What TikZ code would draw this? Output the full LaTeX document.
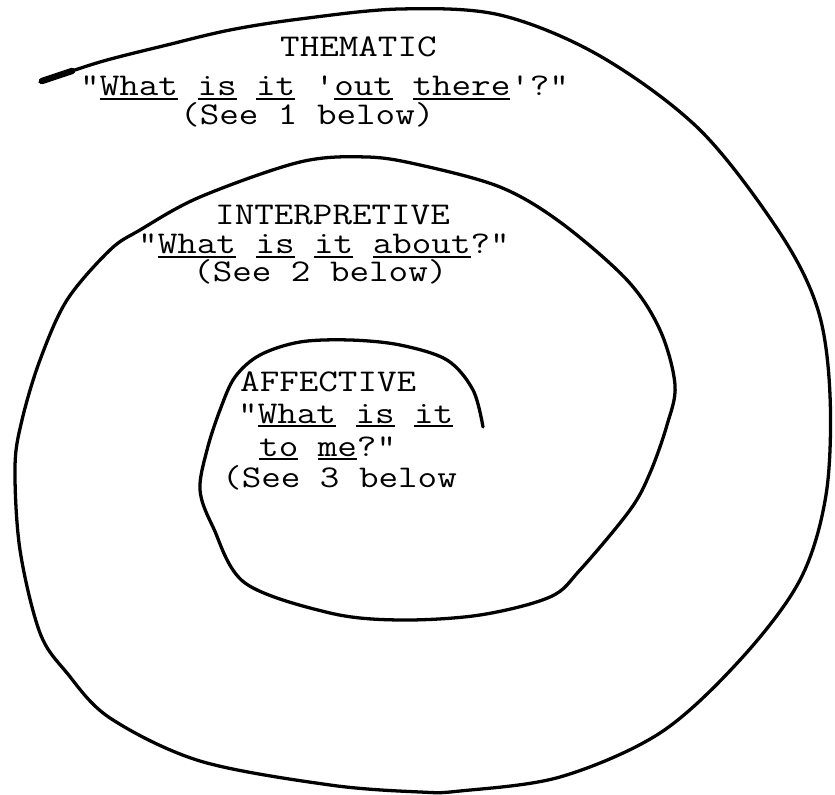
\documentclass[tikz,border=0pt]{standalone}
\usepackage{fontspec}
\usepackage{graphicx}
\usetikzlibrary{positioning}
\newcommand{\tw}[1]{\scalebox{1.2}[1]{#1}}
\newcommand{\undr}[1]{\setbox0\hbox{#1}\rlap{\rule[-3.2pt]{\wd0}{1.4pt}}\box0\relax}
\tikzset{
  typed/.style={anchor=base west,inner sep=0pt,
                font=\fontsize{27}{30}\selectfont\ttfamily},
  spiral/.style={line width=2.8pt,line join=round,line cap=round},
  spiraltip/.style={line width=5.5pt,line cap=round},
}

\begin{document}
\begin{tikzpicture}[x=0.03cm,y=-0.03cm]
  \useasboundingbox (0,0) rectangle (835,795);
  % the spiral, from the open outer end inwards
  \draw[spiral] plot[smooth,tension=0.55] coordinates {
    (40,82) (100,62) (167,45) (230,30) (300,19) (400,9) (500,15)
    (600,56) (700,130) (780,233) (818,310) (830,395) (826,495)
    (800,580) (740,660) (660,733) (560,777) (460,791) (420,792)
    (330,785) (200,761) (110,718) (67,673) (40,633) (20,550)
    (15,467) (22,420) (40,360) (67,300) (110,250) (140,230)
    (200,197) (300,162) (367,157) (420,165) (500,187) (560,222)
    (627,280) (660,330) (675,385) (667,425) (650,473) (630,510)
    (580,570) (550,597) (480,615) (400,620) (330,613) (245,583)
    (213,527) (200,490) (207,450) (220,410) (235,377) (260,355)
    (300,342) (350,340) (400,345) (447,360) (473,390) (483,427)};
  \draw[spiraltip] (42,81) -- (72,71);
  % THEMATIC
  \node[typed] (th1) at (280,57) {\tw{THEMATIC}};
  \node[typed] (th2) at (80,96)
    {\tw{"\undr{What} \undr{is} \undr{it} '\undr{out} \undr{there}'?"}};
  \node[typed] (th3) at (180,125) {\tw{(See 1 below)}};
  % INTERPRETIVE
  \node[typed] (in1) at (215,225) {\tw{INTERPRETIVE}};
  \node[typed] (in2) at (138,254)
    {\tw{"\undr{What} \undr{is} \undr{it} \undr{about}?"}};
  \node[typed] (in3) at (193,282) {\tw{(See 2 below)}};
  % AFFECTIVE
  \node[typed] (af1) at (240,392) {\tw{AFFECTIVE}};
  \node[typed] (af2) at (238,423) {\tw{"\undr{What} \undr{is} \undr{it}}};
  \node[typed] (af3) at (259,456) {\tw{\undr{to} \undr{me}?"}};
  \node[typed] (af4) at (222,487) {\tw{(See 3 below}};
\end{tikzpicture}
\end{document}
